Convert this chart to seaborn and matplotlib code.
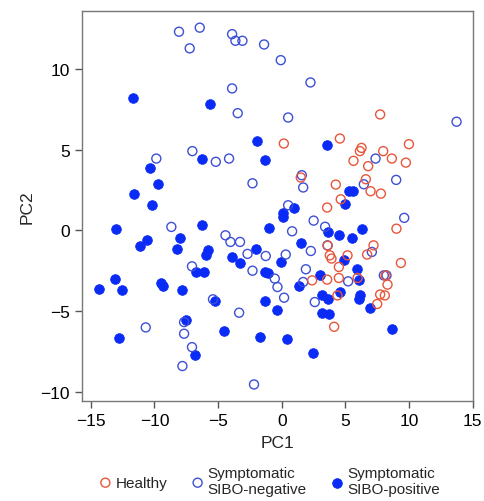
import numpy as np
import pandas as pd
import matplotlib
matplotlib.use('Agg')
import matplotlib.pyplot as plt
import seaborn as sns

# Healthy (open red)
healthy_pc1 = [7.72, 0.16, 4.56, 6.26, 6.13, 7.96, 9.98, 5.63, 8.64, 9.74, 6.78, 1.49,
               6.6, 4.24, 6.97, 7.78, 4.63, 3.56, 9.0, 7.2, 6.7, 3.77, 3.9, 5.16, 9.35,
               4.48, 2.38, 3.56, 4.48, 5.95, 8.3, 7.72, 8.09, 7.49, 4.37, 4.11, 8.15, 3.6]
healthy_pc2 = [7.17, 5.37, 5.68, 5.1, 4.9, 4.9, 5.33, 4.3, 4.44, 4.19, 3.97, 3.27,
               3.16, 2.83, 2.42, 2.27, 1.92, 1.41, 0.1, -0.93, -1.5, -1.55, -1.75, -1.55, -2.02,
               -2.27, -3.1, -3.05, -2.95, -2.95, -3.36, -3.97, -4.03, -4.56, -4.03, -5.97, -2.8, -0.95]

# Symptomatic SIBO-negative (open blue)
neg_pc1 = [-8.07, -6.44, -7.23, -3.9, -3.64, -3.09, -1.39, -0.08, 2.25, -3.9, -3.46, 0.5,
           13.72, -7.02, -9.85, -5.18, -4.14, 7.36, -2.3, 8.98, 1.57, 1.68, 6.44, 0.5,
           2.5, 3.4, 9.61, 0.81, 2.28, 3.59, 7.07, -1.26, 0.31, 1.89, 5.21, 8.01, 8.22,
           -0.55, -0.34, 1.68, 0.18, 2.59, -2.18, -8.67, -4.42, -4.03, -3.28, -2.69,
           -7.05, -2.3, -5.4, -3.35, -10.68, -7.67, -7.67, -7.05, -7.8]
neg_pc2 = [12.29, 12.54, 11.26, 12.14, 11.73, 11.73, 11.5, 10.53, 9.15, 8.78, 7.25, 6.98,
           6.72, 4.9, 4.44, 4.24, 4.44, 4.44, 2.91, 3.12, 3.41, 2.65, 2.85, 1.55,
           0.6, 0.22, 0.77, -0.06, -1.28, -0.93, -1.34, -1.59, -1.5, -2.41, -3.16, -2.79, -2.79,
           -2.99, -3.51, -3.2, -4.17, -4.44, -9.54, 0.21, -0.31, -0.72, -0.72, -1.46,
           -2.23, -2.5, -4.27, -5.1, -6.01, -5.68, -6.4, -7.23, -8.4]

# Symptomatic SIBO-positive (filled blue)
pos_pc1 = [-11.68, -5.63, -1.91, -1.34, -6.23, -10.37, -9.72, -11.63, -10.21, 3.56, 5.29, 5.6,
           4.95, 0.92, 0.08, 0.12, -1.0, 3.64, 4.5, 5.55, 6.31, 1.49, 4.87, 5.87, -0.1,
           -1.34, -1.08, 2.99, 6.07, 1.36, 3.12, 3.64, 4.56, 6.13, 6.07, -1.34, -0.37, 6.91,
           3.17, 3.72, 8.62, -1.73, 0.42, 2.46, -12.99, -6.23, -11.15, -10.58, -7.96, -8.22,
           -1.99, -5.79, -5.92, -3.9, -3.28, -6.7, -6.13, -13.06, -14.35, -12.52, -9.45, -9.32,
           -7.8, -5.26, -7.54, -12.8, -4.5, -6.78]
pos_pc2 = [8.16, 7.81, 5.51, 4.38, 4.42, 3.87, 2.87, 2.27, 1.55, 5.31, 2.42, 2.42,
           1.65, 1.37, 1.05, 0.8, 0.15, -0.1, -0.31, -0.45, 0.1, -0.78, -1.86, -2.37, -1.96,
           -2.58, -2.62, -2.79, -3.1, -3.45, -4.03, -4.27, -3.82, -4.03, -4.27, -4.38, -4.96, -4.81,
           -5.1, -5.2, -6.09, -6.6, -6.75, -7.58, 0.1, 0.35, -0.97, -0.62, -0.45, -1.18,
           -1.13, -1.24, -1.5, -1.65, -2.02, -2.58, -2.58, -2.99, -3.66, -3.67, -3.24, -3.45,
           -3.72, -4.37, -5.53, -6.67, -6.21, -7.7]

groups = ['Healthy', 'Symptomatic\nSIBO-negative', 'Symptomatic\nSIBO-positive']

df = pd.concat([
    pd.DataFrame({'PC1': healthy_pc1, 'PC2': healthy_pc2, 'group': groups[0]}),
    pd.DataFrame({'PC1': neg_pc1, 'PC2': neg_pc2, 'group': groups[1]}),
    pd.DataFrame({'PC1': pos_pc1, 'PC2': pos_pc2, 'group': groups[2]}),
])

sns.set_style('white')
plt.rcParams['font.family'] = ['Liberation Sans', 'DejaVu Sans']

fig = plt.figure(figsize=(4.84, 5.02), dpi=100)
ax = fig.add_axes([0.169, 0.199, 0.808, 0.778])

red = '#e8563a'
blue_open = '#3d4fd6'
blue_fill = '#0a2af5'

# filled first, then open circles on top
sns.scatterplot(data=df[df.group == groups[2]], x='PC1', y='PC2', ax=ax, marker='o', s=48,
                color=blue_fill, edgecolor=blue_fill, linewidth=0.6, label=groups[2], zorder=2)
sns.scatterplot(data=df[df.group == groups[1]], x='PC1', y='PC2', ax=ax, marker='o', s=42,
                facecolor='none', edgecolor=blue_open, linewidth=1.0, label=groups[1], zorder=3)
sns.scatterplot(data=df[df.group == groups[0]], x='PC1', y='PC2', ax=ax, marker='o', s=42,
                facecolor='none', edgecolor=red, linewidth=1.0, label=groups[0], zorder=4)

ax.set_xlim(-15.7, 15)
ax.set_ylim(-10.57, 13.6)
ax.set_xticks([-15, -10, -5, 0, 5, 10, 15])
ax.set_yticks([-10, -5, 0, 5, 10])
for sp in ax.spines.values():
    sp.set_color('#777777')
    sp.set_linewidth(1.0)
ax.tick_params(axis='both', direction='out', length=5, width=1, color='#555555',
               labelsize=12.5, labelcolor='black', bottom=True, left=True, pad=3.5)
ax.set_xlabel('PC1', fontsize=12.5, labelpad=5)
ax.set_ylabel('PC2', fontsize=12.5, labelpad=4)

# legend below the axes
handles, labels = ax.get_legend_handles_labels()
order = [labels.index(g) for g in groups]
ax.get_legend().remove()
fig.legend([handles[i] for i in order], [labels[i] for i in order],
           loc='lower center', bbox_to_anchor=(0.557, -0.018), ncol=3, frameon=False,
           fontsize=11, handlelength=0.8, handletextpad=0.25, columnspacing=1.6,
           labelspacing=0.2)

fig.savefig('out.png', dpi=100)
